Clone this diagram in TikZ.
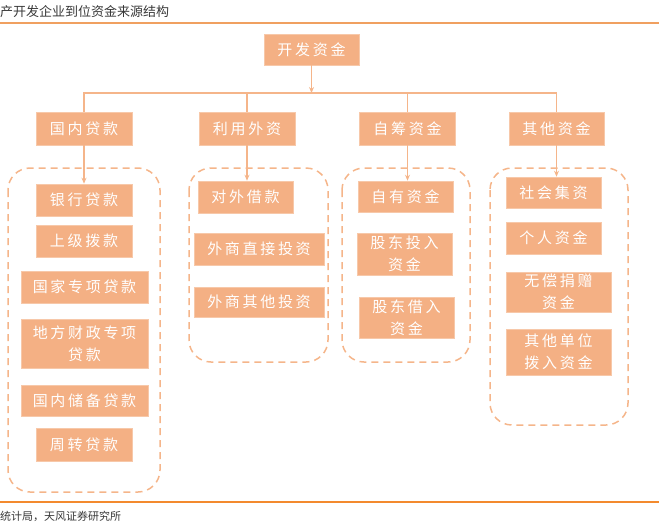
\documentclass[tikz,border=0pt]{standalone}
\usepackage{fontspec}
\usetikzlibrary{arrows.meta}
\newfontfamily\cjk{Noto Sans CJK SC}
\newfontfamily\boxfont[LetterSpace=18]{Noto Sans CJK SC}
\definecolor{boxc}{HTML}{F4B084}
\definecolor{linec}{HTML}{F5B58A}
\definecolor{rulec}{HTML}{F0A060}
\definecolor{rulec2}{HTML}{F38A2E}
\definecolor{txtc}{HTML}{383838}
\tikzset{
  fbox/.style={fill=boxc, draw=boxc!70!white, line width=0.6pt, text=white, inner sep=0pt, align=center,
    font=\boxfont\fontsize{15}{22}\selectfont},
  conn/.style={draw=linec, line width=1.5pt},
  arr/.style={conn, -{Stealth[length=6pt,width=5pt]}},
  grp/.style={draw=linec, line width=1.5pt, dash pattern=on 7pt off 5pt, rounded corners=22pt},
}
\begin{document}
\begin{tikzpicture}[x=1pt,y=-1pt]
\useasboundingbox (0,0) rectangle (659,531);
% header / footer
\node[anchor=west, inner sep=0pt, text=txtc, font=\cjk\fontsize{13}{15}\selectfont] (title) at (0,12) {产开发企业到位资金来源结构};
\draw[rulec, line width=1.5pt] (0,23) -- (659,23);
\draw[rulec2, line width=1.5pt] (0,502) -- (659,502);
\node[anchor=west, inner sep=0pt, text=txtc, font=\cjk\fontsize{11}{13}\selectfont] (src) at (0,516) {统计局，天风证券研究所};

% top
\node[fbox, minimum width=95pt, minimum height=31pt] (kf) at (311.5,49.5) {开发资金};
% level 2
\node[fbox, minimum width=96pt, minimum height=33pt] (gn) at (84,128.5) {国内贷款};
\node[fbox, minimum width=96pt, minimum height=33pt] (ly) at (247,128.5) {利用外资};
\node[fbox, minimum width=96pt, minimum height=33pt] (zc) at (407.5,128.5) {自筹资金};
\node[fbox, minimum width=95pt, minimum height=33pt] (qt) at (556.5,128.5) {其他资金};

% bus
\coordinate (bus) at (311.5,93);
\draw[conn] (gn.north) -- (gn.north |- bus) -- (qt.north |- bus) -- (qt.north);
\draw[conn] (ly.north) -- (ly.north |- bus);
\draw[conn] (zc.north) -- (zc.north |- bus);
\draw[arr] (kf.south) -- (bus);

% groups
\draw[grp] (8,168) rectangle (160,492);
\draw[grp] (189,168) rectangle (328,362);
\draw[grp] (342,168) rectangle (470,362);
\draw[grp] (490,168) rectangle (628,425);

% group 1
\node[fbox, minimum width=96pt, minimum height=32pt] (g1a) at (84,200) {银行贷款};
\node[fbox, minimum width=96pt, minimum height=32pt] (g1b) at (84,241) {上级拨款};
\node[fbox, minimum width=127pt, minimum height=32pt] (g1c) at (84.5,287) {国家专项贷款};
\node[fbox, minimum width=127pt, minimum height=49pt] (g1d) at (84.5,343.5) {地方财政专项\\贷款};
\node[fbox, minimum width=127pt, minimum height=31pt] (g1e) at (84.5,400.5) {国内储备贷款};
\node[fbox, minimum width=96pt, minimum height=33pt] (g1f) at (84,444.5) {周转贷款};

% group 2
\node[fbox, minimum width=95pt, minimum height=32pt] (g2a) at (245.5,197) {对外借款};
\node[fbox, minimum width=130pt, minimum height=32pt] (g2b) at (259,249) {外商直接投资};
\node[fbox, minimum width=130pt, minimum height=30pt] (g2c) at (259,302) {外商其他投资};

% group 3
\node[fbox, minimum width=95pt, minimum height=31pt] (g3a) at (405.5,196.5) {自有资金};
\node[fbox, minimum width=95pt, minimum height=42pt] (g3b) at (404.5,254) {股东投入\\资金};
\node[fbox, minimum width=95pt, minimum height=41pt] (g3c) at (406.5,317.5) {股东借入\\资金};

% group 4
\node[fbox, minimum width=95pt, minimum height=31pt] (g4a) at (553.5,192.5) {社会集资};
\node[fbox, minimum width=95pt, minimum height=32pt] (g4b) at (553.5,238) {个人资金};
\node[fbox, minimum width=105pt, minimum height=40pt] (g4c) at (558.5,292) {无偿捐赠\\资金};
\node[fbox, minimum width=105pt, minimum height=46pt] (g4d) at (558.5,352) {其他单位\\拨入资金};

% arrows to children
\draw[arr] (gn.south) -- (gn.south |- g1a.north);
\draw[arr] (ly.south) -- (ly.south |- g2a.north);
\draw[arr] (zc.south) -- (zc.south |- g3a.north);
\draw[arr] (qt.south) -- (qt.south |- g4a.north);
\end{tikzpicture}
\end{document}
